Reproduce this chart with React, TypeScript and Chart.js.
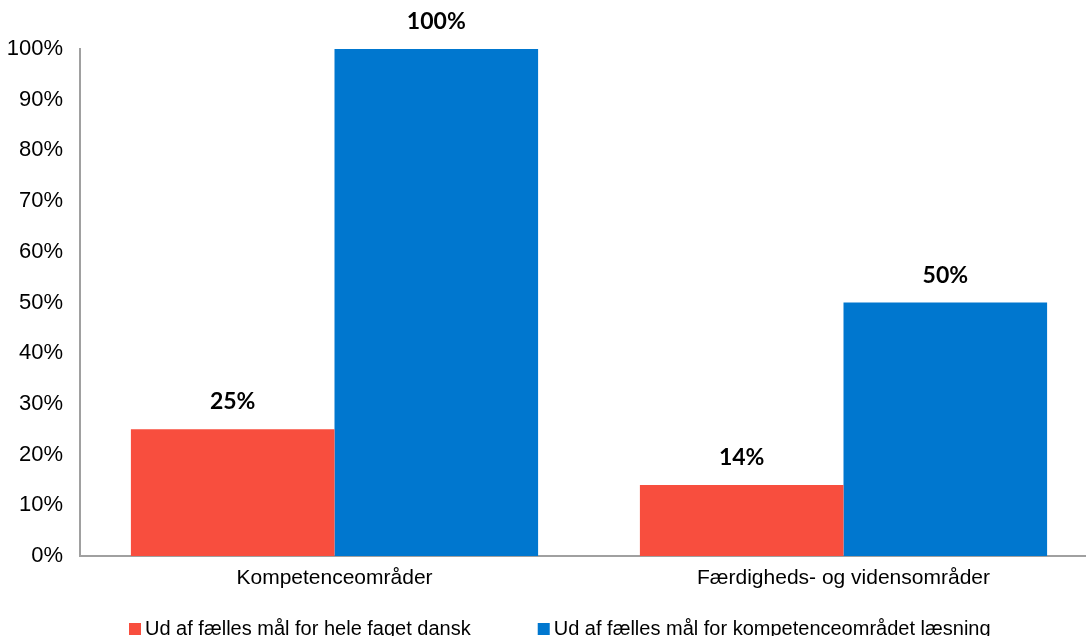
import React, { useEffect, useRef } from "react";
import { Chart, registerables } from "chart.js";

Chart.register(...registerables);

const categories = ["Kompetenceområder", "Færdigheds- og vidensområder"];
const seriesLabels = [
  "Ud af fælles mål for hele faget dansk",
  "Ud af fælles mål for kompetenceområdet læsning",
];
const redValues = [25, 14];
const blueValues = [100, 50];
const yTicks = [0, 10, 20, 30, 40, 50, 60, 70, 80, 90, 100];

const RED = "#F84E3E";
const BLUE = "#0077CF";
const AXIS = "#A0A0A0";

const dataLabelPlugin = {
  id: "dataLabels",
  afterDatasetsDraw(chart: any) {
    const ctx = chart.ctx;
    ctx.save();
    ctx.font = "bold 23px Lato, 'Liberation Sans', sans-serif";
    ctx.fillStyle = "#000";
    ctx.textAlign = "center";
    ctx.textBaseline = "alphabetic";
    chart.data.datasets.forEach((ds: any, di: number) => {
      const meta = chart.getDatasetMeta(di);
      meta.data.forEach((el: any, i: number) => {
        ctx.fillText(ds.data[i] + "%", el.x, el.y - 20);
      });
    });
    ctx.restore();
  },
};

const legendPlugin = {
  id: "customLegend",
  afterDraw(chart: any) {
    const ctx = chart.ctx;
    ctx.save();
    ctx.font = "20px 'Liberation Sans', Arial, sans-serif";
    ctx.textBaseline = "alphabetic";
    ctx.textAlign = "left";
    let x = 129;
    const baseY = 635;
    chart.data.datasets.forEach((ds: any) => {
      ctx.fillStyle = ds.backgroundColor;
      ctx.fillRect(x, baseY - 12, 12, 12);
      ctx.fillStyle = "#000";
      ctx.fillText(ds.label, x + 16, baseY);
      x += 16 + ctx.measureText(ds.label).width + 67;
    });
    ctx.restore();
  },
};

export default function App() {
  const ref = useRef<HTMLCanvasElement | null>(null);
  useEffect(() => {
    if (!ref.current) return;
    Chart.defaults.font.family = "'Liberation Sans', Arial, sans-serif";
    const chart = new Chart(ref.current, {
      type: "bar",
      data: {
        labels: categories,
        datasets: [
          {
            label: seriesLabels[0],
            data: redValues,
            backgroundColor: RED,
            borderWidth: 0,
            categoryPercentage: 0.8,
            barPercentage: 1.0,
          },
          {
            label: seriesLabels[1],
            data: blueValues,
            backgroundColor: BLUE,
            borderWidth: 0,
            categoryPercentage: 0.8,
            barPercentage: 1.0,
          },
        ],
      },
      options: {
        responsive: false,
        animation: false,
        devicePixelRatio: 1,
        layout: { padding: { top: 49, right: 2, bottom: 54, left: 0 } },
        plugins: {
          legend: { display: false },
          tooltip: { enabled: false },
        },
        scales: {
          x: {
            grid: { display: false, drawTicks: false },
            border: { display: true, color: AXIS, width: 2 },
            ticks: {
              color: "#000",
              font: { size: 21 },
              padding: 10,
              maxRotation: 0,
            },
            afterFit(scale: any) {
              scale.height = 40;
            },
          },
          y: {
            min: 0,
            max: 100,
            grid: { display: false, drawTicks: false },
            border: { display: true, color: AXIS, width: 2 },
            afterBuildTicks(scale: any) {
              scale.ticks = yTicks.map((v) => ({ value: v }));
            },
            ticks: {
              color: "#000",
              font: { size: 22 },
              padding: 17,
              callback: (v: any) => v + "%",
            },
            afterFit(scale: any) {
              scale.width = 80;
            },
          },
        },
      },
      plugins: [dataLabelPlugin, legendPlugin],
    });
    return () => chart.destroy();
  }, []);

  return (
    <div
      style={{
        position: "fixed",
        left: 0,
        top: 0,
        width: 1086,
        height: 636,
        overflow: "hidden",
        background: "#fff",
      }}
    >
      <canvas ref={ref} width={1100} height={650} style={{ display: "block" }} />
    </div>
  );
}
